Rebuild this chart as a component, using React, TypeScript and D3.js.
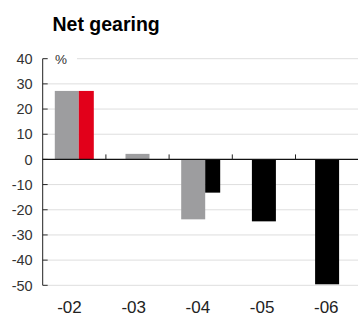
import React from 'react';
import { scaleBand, scaleLinear, scalePoint } from 'd3';

const categories = ['-02', '-03', '-04', '-05', '-06'];
const grayValues = [27.2, 2.2, -23.8, null, null];
const redValues = [27.2, null, null, null, null];
const blackValues = [null, null, -13.2, -24.6, -49.6];
const yTicks = [40, 30, 20, 10, 0, -10, -20, -30, -40, -50];

const series = [
  { name: 'gray', values: grayValues, color: '#9d9d9f' },
  { name: 'red', values: redValues, color: '#e2001a' },
  { name: 'black', values: blackValues, color: '#000000' },
];

const font = '"Liberation Sans", Arial, Helvetica, sans-serif';

const App = () => {
  const width = 358;
  const height = 315;
  const axisX = 42.7;
  const rightEdge = 358;

  const yScale = scaleLinear().domain([-50, 40]).range([285.3, 58.7]);
  const xScale = scaleBand().domain(categories).range([42.7, 358.7]).padding(0);
  const labelScale = scalePoint().domain(categories).range([69.5, 326.3]);

  const mainWidth = 24;
  const secondWidth = 15;

  const bars = [];
  categories.forEach((cat, i) => {
    const present = series.filter(s => s.values[i] !== null);
    const center = xScale(cat) + xScale.bandwidth() / 2;
    const total = present.length === 1 ? mainWidth : mainWidth + secondWidth;
    let x = center - total / 2;
    present.forEach((s, j) => {
      const w = j === 0 ? mainWidth : secondWidth;
      const v = s.values[i];
      bars.push({ key: `${cat}-${s.name}`, x, w, y: yScale(Math.max(0, v)), h: Math.abs(yScale(v) - yScale(0)), color: s.color });
      x += w;
    });
  });

  const y0 = yScale(0);

  return (
    <svg width={width} height={height} style={{ position: 'absolute', left: 0, top: 0, fontFamily: font }}>
      <text x={52.5} y={31} fontSize={19.5} fontWeight="bold" fill="#000">Net gearing</text>

      {yTicks.map(t => (
        <g key={`grid-${t}`}>
          {t !== 0 && (
            <line x1={t === 40 ? 77 : axisX + 5} x2={rightEdge} y1={yScale(t)} y2={yScale(t)} stroke="#dedede" strokeWidth={1} />
          )}
          <line x1={axisX} x2={axisX + 5} y1={yScale(t)} y2={yScale(t)} stroke="#222" strokeWidth={1} />
          <text x={32.7} y={yScale(t)} dy="0.36em" textAnchor="end" fontSize={14.5} fill="#333">{t}</text>
        </g>
      ))}

      <text x={55} y={yScale(40)} dy="0.36em" fontSize={13.5} fill="#333">%</text>

      {bars.map(b => (
        <rect key={b.key} x={b.x} y={b.y} width={b.w} height={b.h} fill={b.color} />
      ))}

      <line x1={axisX} x2={axisX} y1={yScale(40)} y2={yScale(-50)} stroke="#222" strokeWidth={1} />
      <line x1={axisX} x2={rightEdge} y1={y0} y2={y0} stroke="#111" strokeWidth={1.3} />
      {categories.slice(1).map(cat => (
        <line key={`xt-${cat}`} x1={xScale(cat)} x2={xScale(cat)} y1={y0} y2={y0 - 5} stroke="#222" strokeWidth={1} />
      ))}

      {categories.map(cat => (
        <text key={`xl-${cat}`} x={labelScale(cat)} y={313.3} textAnchor="middle" fontSize={17} fill="#222">{cat}</text>
      ))}
    </svg>
  );
};

export default App;
